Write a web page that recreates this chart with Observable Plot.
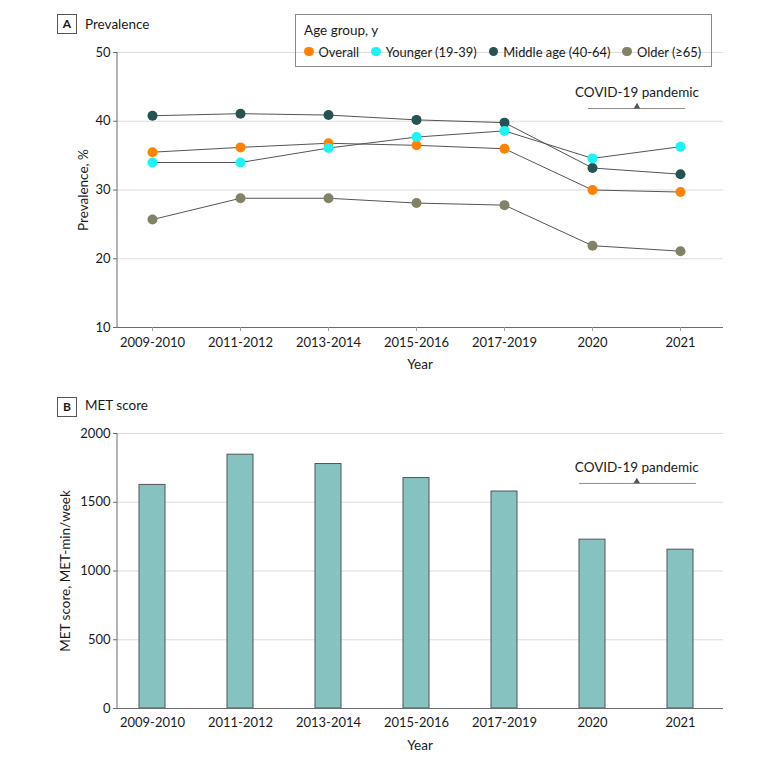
<!DOCTYPE html>
<html><head><meta charset="utf-8">
<script src="https://cdn.jsdelivr.net/npm/d3@7"></script>
<script src="https://cdn.jsdelivr.net/npm/@observablehq/plot@0.6"></script>
<style>
body{margin:0;background:#fff;font-family:Lato,sans-serif;color:#1a1a1a}
#c{position:relative;width:780px;height:762px;overflow:hidden}
#c svg{position:absolute;left:0}
.t{position:absolute;white-space:nowrap;font-size:13.5px;line-height:20px;height:20px}
.tag{position:absolute;border:1px solid #555;font-weight:bold;font-size:12px;text-align:center;box-sizing:border-box;width:20px;height:20px;line-height:18px}
.rot{position:absolute;white-space:nowrap;font-size:13.5px;transform:translate(-50%,-50%) rotate(-90deg)}
.ctr{position:absolute;white-space:nowrap;font-size:13.5px;transform:translate(-50%,-50%)}
#legend{position:absolute;left:295px;top:14px;width:417px;height:53px;border:1px solid #8a8a8a;box-sizing:border-box}
#items{position:absolute;left:304px;top:42px;height:19px;display:flex;align-items:center;gap:12px;font-size:12.9px;white-space:nowrap}
.it{display:flex;align-items:center;gap:5px}
.dot{width:9.5px;height:9.5px;border-radius:50%;display:inline-block}
</style></head><body><div id="c"></div>
<script>
const years = ["2009-2010","2011-2012","2013-2014","2015-2016","2017-2019","2020","2021"];
const groups = ["Overall","Younger (19-39)","Middle age (40-64)","Older (≥65)"];
const groupColors = ["#ff8200","#1ff2f2","#275252","#848169"];
const overall = [35.5, 36.2, 36.8, 36.5, 36.0, 30.0, 29.7];
const younger = [34.0, 34.0, 36.1, 37.7, 38.6, 34.6, 36.3];
const middle  = [40.8, 41.1, 40.9, 40.2, 39.8, 33.2, 32.3];
const older   = [25.7, 28.8, 28.8, 28.1, 27.8, 21.9, 21.1];
const metScore = [1626, 1846, 1778, 1676, 1578, 1228, 1155];
const prevTicks = [10, 20, 30, 40, 50];
const metTicks = [0, 500, 1000, 1500, 2000];
const covidLabel = "COVID-19 pandemic";
const covidStart = "2020", covidEnd = "2021";

const series = [overall, younger, middle, older];
const long = groups.flatMap((g, gi) => years.map((y, i) => ({year: y, group: g, value: series[gi][i]})));
const drawOrder = [2, 0, 1, 3];
const dots = drawOrder.flatMap(gi => long.filter(d => d.group === groups[gi]));
const metData = years.map((y, i) => ({year: y, value: metScore[i]}));

const style = {fontFamily: "Lato, sans-serif", fontSize: "13px", color: "#1a1a1a", background: "none", overflow: "visible"};
const grid = {stroke: "#dcdcdc", strokeWidth: 1.2};
const axisCol = "#6b6b6b";

const c = document.getElementById("c");

function addYLine(svg, v0, v1, left) {
  const ys = svg.scale("y");
  d3.select(svg).append("line")
    .attr("x1", left).attr("x2", left)
    .attr("y1", ys.apply(v0)).attr("y2", ys.apply(v1))
    .attr("stroke", axisCol);
}

// Panel A
const plotA = Plot.plot({
  width: 780, height: 380, marginTop: 52, marginBottom: 53, marginLeft: 117, marginRight: 57,
  style,
  x: {type: "point", domain: years, range: [150, 682], padding: 0},
  y: {domain: [10, 50]},
  color: {domain: groups, range: groupColors},
  marks: [
    Plot.ruleY(prevTicks.slice(1), grid),
    Plot.ruleY([prevTicks[0]], {stroke: axisCol}),
    Plot.axisY({ticks: prevTicks, tickFormat: d => String(d), tickSize: 4, tickPadding: 3, stroke: axisCol, fill: "#1a1a1a", label: null, fontSize: 13}),
    Plot.axisX({tickSize: 4, tickPadding: 6, stroke: "#a0a0a0", fill: "#1a1a1a", label: null, fontSize: 13}),
    Plot.line(long, {x: "year", y: "value", z: "group", stroke: "#555", strokeWidth: 1}),
    Plot.dot(dots, {x: "year", y: "value", fill: "group", r: 5}),
    Plot.ruleY([covidLabel], {x1: () => covidStart, x2: () => covidEnd, y: () => 41.85, insetLeft: -4, insetRight: -5, stroke: "#8c8c8c"}),
    Plot.dot([covidLabel], {x: () => covidStart, y: () => 41.85, dx: 44.5, dy: -2, symbol: "triangle", r: 2.4, fill: "#555"}),
    Plot.text([covidLabel], {x: () => covidStart, y: () => 44.15, dx: 44.5, text: d => d, fontSize: 13.5, fill: "#1a1a1a"})
  ]
});
plotA.style.top = "0px";
addYLine(plotA, 10, 50, 117);
c.appendChild(plotA);

// Panel B
const plotB = Plot.plot({
  width: 780, height: 382, marginTop: 53, marginBottom: 54, marginLeft: 117, marginRight: 57,
  style,
  x: {type: "band", domain: years, range: [105.67, 726.33], paddingInner: 0.7, paddingOuter: 0.35, align: 0.5},
  y: {domain: [0, 2000]},
  marks: [
    Plot.ruleY(metTicks.slice(1), grid),
    Plot.barY(metData, {x: "year", y: "value", fill: "#85c2c0", stroke: "#555", strokeWidth: 1}),
    Plot.ruleY([metTicks[0]], {stroke: axisCol}),
    Plot.axisY({ticks: metTicks, tickFormat: d => String(d), tickSize: 4, tickPadding: 3, stroke: axisCol, fill: "#1a1a1a", label: null, fontSize: 13}),
    Plot.axisX({tickSize: 0, tickPadding: 9, fill: "#1a1a1a", label: null, fontSize: 13}),
    Plot.ruleY([covidLabel], {x1: () => covidStart, x2: () => covidEnd, y: () => 1637, insetRight: -3, stroke: "#8c8c8c"}),
    Plot.dot([covidLabel], {x: () => covidStart, y: () => 1637, dx: 44.3, dy: -2, symbol: "triangle", r: 2.4, fill: "#555"}),
    Plot.text([covidLabel], {x: () => covidStart, y: () => 1751, dx: 44.3, text: d => d, fontSize: 13.5, fill: "#1a1a1a"})
  ]
});
plotB.style.top = "380px";
addYLine(plotB, 0, 2000, 117);
c.appendChild(plotB);

// HTML text: panel tags, titles, axis titles, legend
function add(cls, text, css) {
  const el = document.createElement("div");
  el.className = cls; el.textContent = text;
  Object.assign(el.style, css);
  c.appendChild(el);
  return el;
}
add("tag", "A", {left: "57px", top: "14px"});
add("t", "Prevalence", {left: "85px", top: "14px"});
add("tag", "B", {left: "57px", top: "397px"});
add("t", "MET score", {left: "85px", top: "395px"});
add("rot", "Prevalence, %", {left: "83px", top: "190px"});
add("rot", "MET score, MET-min/week", {left: "65px", top: "571px"});
add("ctr", "Year", {left: "420px", top: "364px"});
add("ctr", "Year", {left: "420px", top: "745px"});

const lg = document.createElement("div"); lg.id = "legend"; c.appendChild(lg);
add("t", "Age group, y", {left: "304px", top: "20px"});
const items = document.createElement("div"); items.id = "items";
groups.forEach((g, i) => {
  const it = document.createElement("span"); it.className = "it";
  const d = document.createElement("span"); d.className = "dot"; d.style.background = groupColors[i];
  const s = document.createElement("span"); s.textContent = g;
  it.appendChild(d); it.appendChild(s); items.appendChild(it);
});
c.appendChild(items);
</script></body></html>
